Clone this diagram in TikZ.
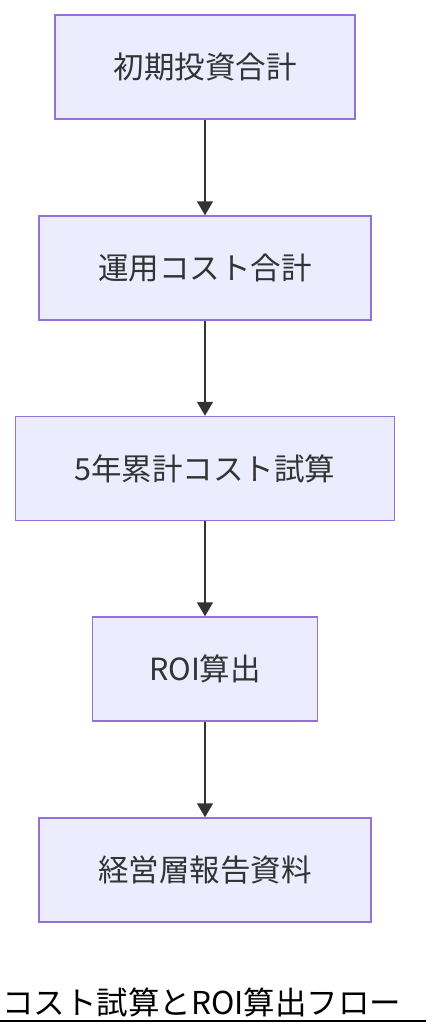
\documentclass[tikz,border=0pt]{standalone}
\usepackage{fontspec}
\setmainfont{Noto Sans CJK JP}
\usepackage{tikz}
\usetikzlibrary{arrows.meta}
\usetikzlibrary{calc}

\definecolor{boxfill}{HTML}{ECECFF}
\definecolor{boxline}{HTML}{9370DB}
\definecolor{inkgrey}{HTML}{333333}

\begin{document}
\begin{tikzpicture}[x=1pt, y=-1pt,
  flowbox/.style={draw=boxline, line width=1.5pt, fill=boxfill, text=inkgrey,
    minimum height=104pt, inner sep=0pt, font=\fontsize{30.5}{36}\selectfont},
  flowarrow/.style={draw=inkgrey, line width=1.6pt,
    -{Triangle[width=16pt,length=14pt]}}]

\useasboundingbox (0,0) rectangle (426,1036);

% First, define the boxes
\node[flowbox, minimum width=300pt] (invest) at (205,67) {初期投資合計};
\node[flowbox, minimum width=332pt] (runcost) at (205,268) {運用コスト合計};
\node[flowbox, minimum width=379pt] (fiveyear) at (205,468.5) {5年累計コスト試算};
\node[flowbox, minimum width=225pt] (roi) at (205,669) {ROI算出};
\node[flowbox, minimum width=332pt] (report) at (205,870) {経営層報告資料};

% Then connect them
\draw[flowarrow] (invest) -- (runcost);
\draw[flowarrow] (runcost) -- (fiveyear);
\draw[flowarrow] (fiveyear) -- (roi);
\draw[flowarrow] (roi) -- (report);

% Title with its rule
\node[anchor=base west, inner sep=0pt, font=\fontsize{31.5}{38}\selectfont] (title)
  at (2,1014) {コスト試算とROI算出フロー};
\coordinate (ruleL) at (0,1021);
\coordinate (ruleR) at (426,1021);
\draw[line width=2pt] (ruleL) -- (ruleR);
\end{tikzpicture}
\end{document}
